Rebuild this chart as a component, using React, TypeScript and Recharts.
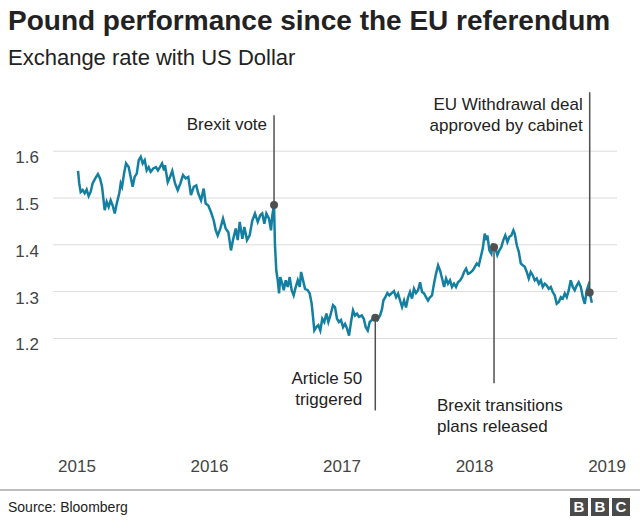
import { Line, LineChart, ReferenceDot, ReferenceLine, XAxis, YAxis } from "recharts"

// GBP/USD readings, decimal year -> rate
const dates = [
  2015.008, 2015.017, 2015.028, 2015.043, 2015.058, 2015.073, 2015.088, 2015.103, 2015.118, 2015.138,
  2015.158, 2015.174, 2015.189, 2015.198, 2015.209, 2015.224, 2015.239, 2015.254, 2015.269, 2015.285,
  2015.300, 2015.319, 2015.330, 2015.340, 2015.355, 2015.370, 2015.390, 2015.405, 2015.420, 2015.435,
  2015.451, 2015.466, 2015.481, 2015.496, 2015.511, 2015.526, 2015.541, 2015.556, 2015.576, 2015.596,
  2015.611, 2015.626, 2015.642, 2015.657, 2015.664, 2015.685, 2015.702, 2015.719, 2015.740, 2015.760,
  2015.780, 2015.800, 2015.820, 2015.840, 2015.860, 2015.881, 2015.900, 2015.915, 2015.936, 2015.956,
  2015.971, 2015.991, 2016.011, 2016.032, 2016.047, 2016.062, 2016.082, 2016.102, 2016.122, 2016.142,
  2016.162, 2016.177, 2016.198, 2016.213, 2016.228, 2016.248, 2016.263, 2016.283, 2016.303, 2016.323,
  2016.343, 2016.364, 2016.383, 2016.398, 2016.414, 2016.429, 2016.449, 2016.464, 2016.474, 2016.487,
  2016.494, 2016.504, 2016.515, 2016.525, 2016.534, 2016.549, 2016.560, 2016.575, 2016.590, 2016.605,
  2016.620, 2016.635, 2016.651, 2016.666, 2016.681, 2016.691, 2016.706, 2016.721, 2016.741, 2016.756,
  2016.771, 2016.781, 2016.791, 2016.806, 2016.821, 2016.836, 2016.851, 2016.866, 2016.882, 2016.897,
  2016.912, 2016.932, 2016.947, 2016.962, 2016.977, 2016.992, 2017.008, 2017.023, 2017.038, 2017.053,
  2017.068, 2017.083, 2017.098, 2017.113, 2017.128, 2017.149, 2017.164, 2017.179, 2017.194, 2017.209,
  2017.224, 2017.239, 2017.251, 2017.266, 2017.287, 2017.302, 2017.312, 2017.327, 2017.342, 2017.357,
  2017.372, 2017.392, 2017.408, 2017.423, 2017.438, 2017.453, 2017.468, 2017.483, 2017.498, 2017.513,
  2017.528, 2017.543, 2017.558, 2017.574, 2017.589, 2017.604, 2017.619, 2017.634, 2017.649, 2017.664,
  2017.679, 2017.694, 2017.709, 2017.725, 2017.740, 2017.755, 2017.770, 2017.785, 2017.800, 2017.815,
  2017.830, 2017.845, 2017.860, 2017.875, 2017.891, 2017.906, 2017.921, 2017.936, 2017.951, 2017.966,
  2017.986, 2018.002, 2018.017, 2018.032, 2018.047, 2018.062, 2018.077, 2018.087, 2018.097, 2018.112,
  2018.127, 2018.137, 2018.147, 2018.162, 2018.172, 2018.187, 2018.202, 2018.217, 2018.232, 2018.248,
  2018.263, 2018.278, 2018.293, 2018.303, 2018.319, 2018.334, 2018.349, 2018.364, 2018.379, 2018.394,
  2018.409, 2018.424, 2018.439, 2018.454, 2018.469, 2018.485, 2018.500, 2018.515, 2018.530, 2018.545,
  2018.560, 2018.575, 2018.590, 2018.605, 2018.620, 2018.636, 2018.651, 2018.666, 2018.681, 2018.696,
  2018.711, 2018.726, 2018.741, 2018.756, 2018.771, 2018.786, 2018.802, 2018.817, 2018.832, 2018.847,
  2018.859, 2018.869, 2018.885,
]

const rates = [
  1.558, 1.531, 1.513, 1.517, 1.510, 1.518, 1.504, 1.513, 1.531, 1.542,
  1.551, 1.542, 1.524, 1.502, 1.474, 1.492, 1.481, 1.495, 1.484, 1.467,
  1.488, 1.510, 1.531, 1.524, 1.552, 1.574, 1.566, 1.545, 1.524, 1.545,
  1.552, 1.581, 1.588, 1.574, 1.581, 1.559, 1.566, 1.556, 1.563, 1.566,
  1.559, 1.566, 1.574, 1.559, 1.570, 1.534, 1.545, 1.558, 1.531, 1.517,
  1.531, 1.549, 1.542, 1.545, 1.506, 1.524, 1.527, 1.510, 1.495, 1.520,
  1.488, 1.484, 1.470, 1.452, 1.431, 1.420, 1.435, 1.456, 1.435, 1.427,
  1.388, 1.410, 1.435, 1.410, 1.449, 1.413, 1.438, 1.410, 1.420, 1.452,
  1.467, 1.449, 1.463, 1.467, 1.445, 1.467, 1.456, 1.431, 1.463, 1.485,
  1.400, 1.345, 1.324, 1.296, 1.331, 1.317, 1.303, 1.324, 1.310, 1.331,
  1.303, 1.292, 1.310, 1.324, 1.310, 1.342, 1.324, 1.306, 1.303, 1.296,
  1.274, 1.246, 1.217, 1.224, 1.228, 1.217, 1.242, 1.235, 1.253, 1.235,
  1.249, 1.271, 1.267, 1.242, 1.235, 1.239, 1.224, 1.231, 1.221, 1.206,
  1.235, 1.260, 1.249, 1.253, 1.246, 1.249, 1.242, 1.224, 1.217, 1.235,
  1.239, 1.246, 1.244, 1.239, 1.249, 1.263, 1.281, 1.288, 1.297, 1.292,
  1.296, 1.301, 1.288, 1.296, 1.281, 1.267, 1.281, 1.266, 1.287, 1.299,
  1.285, 1.306, 1.297, 1.303, 1.320, 1.299, 1.296, 1.288, 1.281, 1.288,
  1.292, 1.317, 1.338, 1.356, 1.345, 1.328, 1.310, 1.328, 1.317, 1.324,
  1.310, 1.317, 1.310, 1.320, 1.324, 1.331, 1.342, 1.349, 1.338, 1.340,
  1.345, 1.353, 1.360, 1.356, 1.374, 1.392, 1.424, 1.410, 1.420, 1.388,
  1.381, 1.403, 1.395, 1.388, 1.378, 1.388, 1.395, 1.410, 1.420, 1.406,
  1.417, 1.420, 1.431, 1.424, 1.399, 1.385, 1.360, 1.356, 1.353, 1.342,
  1.328, 1.342, 1.335, 1.324, 1.328, 1.317, 1.324, 1.310, 1.317, 1.313,
  1.306, 1.310, 1.299, 1.292, 1.274, 1.278, 1.288, 1.285, 1.296, 1.288,
  1.303, 1.324, 1.310, 1.303, 1.313, 1.320, 1.310, 1.288, 1.274, 1.303,
  1.313, 1.298, 1.276,
]

const yearTicks = [2015, 2016, 2017, 2018, 2019]
const rateTicks = [1.2, 1.3, 1.4, 1.5, 1.6]

// annotations
const eventLabels = [
  ["Brexit vote"],
  ["Article 50", "triggered"],
  ["Brexit transitions", "plans released"],
  ["EU Withdrawal deal", "approved by cabinet"],
]
const eventDates = [2016.487, 2017.251, 2018.147, 2018.869]
const eventRates = [1.485, 1.244, 1.395, 1.298]
const eventLineEnds = [1.677, 1.046, 1.104, 1.726]

// where each label sits relative to the end of its line
const labelPlacement = [
  { anchor: "end", dx: -7, dy: 15 },
  { anchor: "end", dx: -13, dy: -26 },
  { anchor: "start", dx: -57, dy: 28 },
  { anchor: "end", dx: -7, dy: 18 },
]

const FONT = '"Liberation Sans", Arial, Helvetica, sans-serif'
const TEAL = "#1380A1"
const MARK = "#505050"

const chartData = dates.map((d, i) => ({ date: d, rate: rates[i] }))

const YTick = (props: any) => {
  const { x, y, payload } = props
  return (
    <text x={x} y={y} dy={12} textAnchor="end" fill="#444" fontSize={17} fontFamily={FONT}>
      {payload.value.toFixed(1)}
    </text>
  )
}

const XTick = (props: any) => {
  const { x, y, payload } = props
  return (
    <text x={x} y={y} dy={12} textAnchor="middle" fill="#444" fontSize={17} fontFamily={FONT}>
      {payload.value}
    </text>
  )
}

const makeLabel = (i: number) => (props: any) => {
  const vb = props.viewBox || {}
  const p = labelPlacement[i]
  return (
    <text x={vb.x + p.dx} y={vb.y + p.dy} textAnchor={p.anchor} fill="#222" fontSize={17} fontFamily={FONT}>
      {eventLabels[i].map((line, k) => (
        <tspan key={k} x={vb.x + p.dx} dy={k === 0 ? 0 : 21}>{line}</tspan>
      ))}
    </text>
  )
}

export default function App() {
  return (
    <div style={{ position: "absolute", left: 0, top: 0, width: 640, height: 520, background: "#fff", fontFamily: FONT }}>
      <div style={{ position: "absolute", left: 8, top: 7, fontSize: 28, lineHeight: "28px", fontWeight: 700, color: "#222", whiteSpace: "nowrap" }}>
        Pound performance since the EU referendum
      </div>
      <div style={{ position: "absolute", left: 8, top: 47, fontSize: 22, lineHeight: "22px", color: "#222", whiteSpace: "nowrap" }}>
        Exchange rate with US Dollar
      </div>

      <div style={{ position: "absolute", left: 0, top: 0 }}>
        <LineChart width={640} height={520} data={chartData} margin={{ top: 81, right: 23, bottom: 58, left: 0 }}>
          <XAxis
            dataKey="date"
            type="number"
            domain={[2014.819, 2019.075]}
            ticks={yearTicks}
            axisLine={false}
            tickLine={false}
            tickMargin={22}
            height={30}
            tick={<XTick />}
            allowDataOverflow
          />
          <YAxis
            type="number"
            domain={[1.0, 1.75]}
            ticks={rateTicks}
            axisLine={false}
            tickLine={false}
            tickMargin={8}
            width={53}
            tick={<YTick />}
            allowDataOverflow
          />
          {rateTicks.map((t) => (
            <ReferenceLine key={`grid-${t}`} y={t} stroke="#dcdcdc" strokeWidth={1} />
          ))}
          <Line
            type="linear"
            dataKey="rate"
            stroke={TEAL}
            strokeWidth={2.5}
            dot={false}
            activeDot={false}
            isAnimationActive={false}
          />
          {eventDates.map((d, i) => (
            <ReferenceLine
              key={`line-${i}`}
              segment={[{ x: d, y: eventRates[i] }, { x: d, y: eventLineEnds[i] }]}
              stroke={MARK}
              strokeWidth={1.5}
              ifOverflow="visible"
            />
          ))}
          {eventDates.map((d, i) => (
            <ReferenceDot key={`dot-${i}`} x={d} y={eventRates[i]} r={4} fill={MARK} stroke="none" ifOverflow="visible" />
          ))}
          {eventDates.map((d, i) => (
            <ReferenceDot
              key={`lab-${i}`}
              x={d}
              y={eventLineEnds[i]}
              r={0}
              fill="none"
              stroke="none"
              ifOverflow="visible"
              label={makeLabel(i)}
            />
          ))}
        </LineChart>
      </div>

      <div style={{ position: "absolute", left: 0, top: 489, width: 640, height: 2, background: "#bdbdbd" }} />
      <div style={{ position: "absolute", left: 8, top: 500, fontSize: 14, lineHeight: "14px", color: "#222" }}>
        Source: Bloomberg
      </div>
      <div style={{ position: "absolute", left: 570, top: 498, display: "flex", gap: 3 }}>
        {["B", "B", "C"].map((c, i) => (
          <div
            key={i}
            style={{
              width: 18, height: 18, background: "#4a4a4a", color: "#fff", fontSize: 15, fontWeight: 700,
              lineHeight: "18px", textAlign: "center",
            }}
          >
            {c}
          </div>
        ))}
      </div>
    </div>
  )
}
